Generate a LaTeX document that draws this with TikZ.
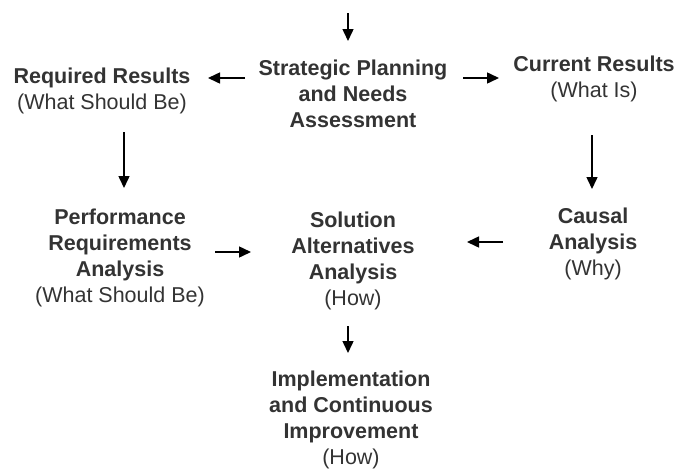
\documentclass[tikz,border=0pt]{standalone}
\usepackage{fontspec}
\setmainfont{Liberation Sans}
\usetikzlibrary{arrows.meta}
\definecolor{ink}{HTML}{333333}
\begin{document}
\begin{tikzpicture}[x=1pt,y=-1pt,
  lbl/.style={align=center, text=ink, inner sep=0pt, anchor=base,
    font=\fontsize{21.5}{26}\selectfont\bfseries},
  arr/.style={-{Triangle[length=12pt,width=11pt]}, line width=1.5pt, black}]
  \useasboundingbox (0,0) rectangle (680,469);

  % stages of the model (placed by the baseline of their last line)
  \node[lbl] (sp) at (353,127) {Strategic Planning\\and Needs\\Assessment};
  \node[lbl] (rr) at (102,109) {Required Results\\\mdseries(What Should Be)};
  \node[lbl] (cr) at (594,97) {Current Results\\\mdseries(What Is)};
  \node[lbl] (pr) at (120,302) {Performance\\Requirements\\Analysis\\\mdseries(What Should Be)};
  \node[lbl] (sa) at (353,305) {Solution\\Alternatives\\Analysis\\\mdseries(How)};
  \node[lbl] (ca) at (593,275) {Causal\\Analysis\\\mdseries(Why)};
  \node[lbl] (ic) at (351,464) {Implementation\\and Continuous\\Improvement\\\mdseries(How)};

  % arrow end points
  \coordinate (in0) at (348,13);  \coordinate (in1) at (348,41);
  \coordinate (l0) at (245,78);   \coordinate (l1) at (208,78);
  \coordinate (r0) at (463,78);   \coordinate (r1) at (499,78);
  \coordinate (dl0) at (124,132); \coordinate (dl1) at (124,188);
  \coordinate (dr0) at (592,135); \coordinate (dr1) at (592,189);
  \coordinate (m0) at (215,252);  \coordinate (m1) at (251,252);
  \coordinate (c0) at (503,242);  \coordinate (c1) at (467,242);
  \coordinate (b0) at (348,326);  \coordinate (b1) at (348,353);

  % connectors
  \draw[arr] (in0) -- (in1);
  \draw[arr] (l0) -- (l1);
  \draw[arr] (r0) -- (r1);
  \draw[arr] (dl0) -- (dl1);
  \draw[arr] (dr0) -- (dr1);
  \draw[arr] (m0) -- (m1);
  \draw[arr] (c0) -- (c1);
  \draw[arr] (b0) -- (b1);
\end{tikzpicture}
\end{document}
